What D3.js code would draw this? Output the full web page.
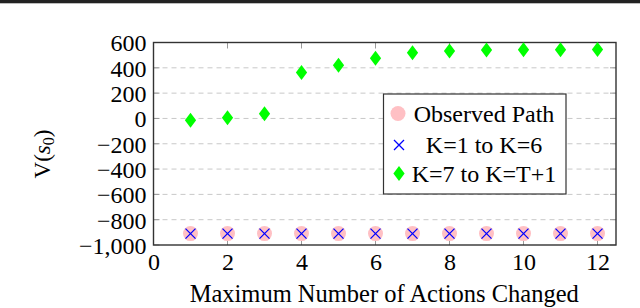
<!DOCTYPE html>
<html><head><meta charset="utf-8">
<script src="https://cdn.jsdelivr.net/npm/d3@7"></script>
<style>body{margin:0;background:#fff}svg{display:block}</style>
</head><body>
<svg id="c" width="640" height="308"></svg>
<script>
const xVals = [1,2,3,4,5,6,7,8,9,10,11,12];
const observed = [-910,-910,-910,-910,-910,-910,-910,-910,-910,-910,-910,-910];
const k1to6 = [-910,-910,-910,-910,-910,-910,-910,-910,-910,-910,-910,-910];
const k7toT = [-15,5,38,362,420,476,520,533,541,542,543,544];
const xTicks = [0,2,4,6,8,10,12];
const yTicks = [-1000,-800,-600,-400,-200,0,200,400,600];
const legendLabels = ["Observed Path","K=1 to K=6","K=7 to K=T+1"];

const svg = d3.select("#c");
const font = "'Liberation Serif','DejaVu Serif',serif";
const m = {l:153.5, r:616, t:42.5, b:245};
const x = d3.scaleLinear().domain([0,12.5]).range([m.l,m.r]);
const y = d3.scaleLinear().domain([-1000,600]).range([m.b,m.t]);

// top bar
svg.append("rect").attr("x",0).attr("y",0).attr("width",640).attr("height",3.3).attr("fill","#222");

// grid
svg.append("g").selectAll("line").data(yTicks.filter(t=>t>-1000 && t<600)).join("line")
  .attr("x1",m.l).attr("x2",m.r).attr("y1",d=>y(d)).attr("y2",d=>y(d))
  .attr("stroke","#c8c8c8").attr("stroke-width",1).attr("stroke-dasharray","5,4");

// ticks inside
const tickG = svg.append("g").attr("stroke","#999").attr("stroke-width",1);
yTicks.forEach(t=>{
  tickG.append("line").attr("x1",m.l).attr("x2",m.l+6).attr("y1",y(t)).attr("y2",y(t));
  tickG.append("line").attr("x1",m.r).attr("x2",m.r-6).attr("y1",y(t)).attr("y2",y(t));
});
xTicks.forEach(t=>{
  tickG.append("line").attr("x1",x(t)).attr("x2",x(t)).attr("y1",m.b).attr("y2",m.b-6);
  tickG.append("line").attr("x1",x(t)).attr("x2",x(t)).attr("y1",m.t).attr("y2",m.t+6);
});

// axes labels via d3 axes (no lines)
const xAxis = svg.append("g").attr("transform",`translate(0,${m.b})`)
  .call(d3.axisBottom(x).tickValues(xTicks).tickSize(0).tickPadding(8).tickFormat(d3.format("d")));
xAxis.select(".domain").remove();
xAxis.selectAll("text").attr("font-family",font).attr("font-size",24).attr("fill","#000").attr("dy","0.72em");

const yAxis = svg.append("g").attr("transform",`translate(${m.l},0)`)
  .call(d3.axisLeft(y).tickValues(yTicks).tickSize(0).tickPadding(7)
    .tickFormat(d=>d3.format(",")(d).replace("-","\u2212\u2009")));
yAxis.select(".domain").remove();
yAxis.selectAll("text").attr("font-family",font).attr("font-size",24).attr("fill","#000").attr("dy","0.35em");

// frame
svg.append("rect").attr("x",m.l).attr("y",m.t).attr("width",m.r-m.l).attr("height",m.b-m.t)
  .attr("fill","none").attr("stroke","#333").attr("stroke-width",1.4);

// data marks
const pink = "#ffc0c4", blue="#0000ff", green="#00ff00";
svg.append("g").selectAll("circle").data(xVals.map((d,i)=>[d,observed[i]])).join("circle")
  .attr("cx",d=>x(d[0])).attr("cy",d=>y(d[1])).attr("r",7.5).attr("fill",pink);
const cross = (g,cx,cy,s)=>g.append("path")
  .attr("d",`M${cx-s},${cy-s}L${cx+s},${cy+s}M${cx-s},${cy+s}L${cx+s},${cy-s}`)
  .attr("stroke",blue).attr("stroke-width",1.3).attr("fill","none");
const cg = svg.append("g");
xVals.forEach((d,i)=>cross(cg,x(d),y(k1to6[i]),5));
const diamond = (cx,cy,w,h)=>`M${cx},${cy-h}L${cx+w},${cy}L${cx},${cy+h}L${cx-w},${cy}Z`;
svg.append("g").selectAll("path").data(xVals.map((d,i)=>[d,k7toT[i]])).join("path")
  .attr("d",d=>diamond(x(d[0]),y(d[1]),5.6,7.5)).attr("fill",green);

// legend
const L = {x:383.5,y:94,w:182.5,h:100};
svg.append("rect").attr("x",L.x).attr("y",L.y).attr("width",L.w).attr("height",L.h)
  .attr("fill","#fff").attr("stroke","#333").attr("stroke-width",1.2);
const rowsY = [113.5,145,173.5];
svg.append("circle").attr("cx",398).attr("cy",rowsY[0]).attr("r",7.5).attr("fill",pink);
cross(svg,399,rowsY[1],5);
svg.append("path").attr("d",diamond(399,rowsY[2],5.6,7.5)).attr("fill",green);
svg.append("g").selectAll("text").data(legendLabels).join("text")
  .attr("x",484).attr("y",(d,i)=>rowsY[i]).attr("dy","0.35em").attr("text-anchor","middle")
  .attr("font-family",font).attr("font-size",24).attr("fill","#000").text(d=>d);

// axis titles
svg.append("text").attr("x",(m.l+m.r)/2 - 0.5).attr("y",302).attr("text-anchor","middle")
  .attr("font-family",font).attr("font-size",24.5).text("Maximum Number of Actions Changed");
const yl = svg.append("text").attr("transform","translate(50,154) rotate(-90)").attr("text-anchor","middle")
  .attr("font-family",font).attr("font-size",23);
yl.append("tspan").text("V(");
yl.append("tspan").attr("font-style","italic").text("s");
yl.append("tspan").attr("font-size",16).attr("dy",4).text("0");
yl.append("tspan").attr("dy",-4).text(")");
</script>
</body></html>
